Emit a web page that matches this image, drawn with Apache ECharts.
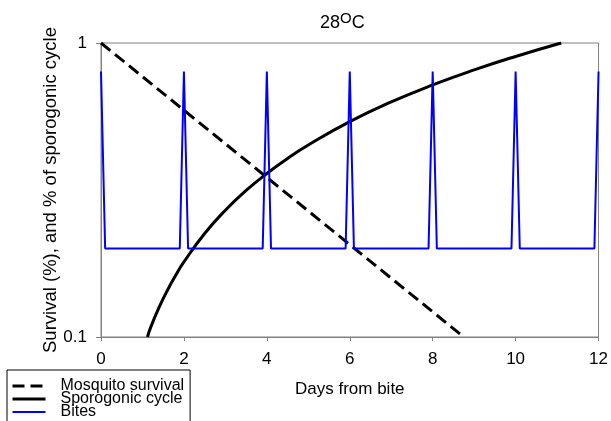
<!DOCTYPE html>
<html>
<head>
<meta charset="utf-8">
<script src="https://cdn.jsdelivr.net/npm/echarts@6/dist/echarts.min.js"></script>
<style>
  html, body { margin: 0; padding: 0; background: #fff; }
  #chart { width: 611px; height: 421px; }
</style>
</head>
<body>
<div id="chart"></div>
<script>
// data
let survivalDays = [0, 8.75];
let survivalVals = [1, 0.1];

let sporoDays = [1.12, 1.2, 1.4, 1.6, 1.8, 2, 2.5, 3, 3.5, 4, 4.5, 5, 6, 7, 8, 9, 10, 11.1];
let sporoVals = [0.1, 0.108, 0.126, 0.144, 0.162, 0.18, 0.225, 0.27, 0.315, 0.36, 0.405, 0.45, 0.54, 0.63, 0.72, 0.81, 0.9, 1.0];

let biteDays = [0, 0.1, 1.9, 2, 2.1, 3.9, 4, 4.1, 5.9, 6, 6.1, 7.9, 8, 8.1, 9.9, 10, 10.1, 11.9, 12];
let biteVals = [0.8, 0.2, 0.2, 0.8, 0.2, 0.2, 0.8, 0.2, 0.2, 0.8, 0.2, 0.2, 0.8, 0.2, 0.2, 0.8, 0.2, 0.2, 0.8];

let xTicks = [0, 2, 4, 6, 8, 10, 12];
let yTicks = [0.1, 1];

let zip = (a, b) => a.map((v, i) => [v, b[i]]);

let font = 'Liberation Sans, Arial, sans-serif';

let option = {
    animation: false,
    backgroundColor: '#fff',
    textStyle: { fontFamily: font },
    title: {
        text: '28{s|O}C',
        left: 315,
        top: 6,
        textStyle: {
            fontFamily: font,
            fontSize: 18,
            fontWeight: 'normal',
            color: '#000',
            rich: {
                s: { fontFamily: font, fontSize: 15, color: '#000', padding: [0, 0, 10, 0] }
            }
        }
    },
    legend: {
        orient: 'vertical',
        left: 7,
        top: 370,
        height: 120,
        itemGap: -3,
        itemWidth: 33,
        itemHeight: 12,
        padding: [8, 6, 20, 4],
        borderColor: '#000',
        borderWidth: 1,
        itemStyle: { opacity: 0 },
        lineStyle: { width: 'inherit' },
        textStyle: { fontFamily: font, fontSize: 16, color: '#000', lineHeight: 12.5, padding: [0, 0, 0, 10] },
        data: ['Mosquito survival', 'Sporogonic cycle', 'Bites']
    },
    grid: {
        left: 101,
        right: 10,
        top: 43,
        bottom: 84,
        show: true,
        borderColor: '#808080',
        borderWidth: 1
    },
    xAxis: {
        type: 'value',
        min: 0,
        max: 12,
        interval: 2,
        name: 'Days from bite',
        nameLocation: 'middle',
        nameGap: 44,
        nameTextStyle: { fontFamily: font, fontSize: 17, color: '#000' },
        axisLine: { lineStyle: { color: '#808080' } },
        axisTick: { length: 4, lineStyle: { color: '#808080' } },
        axisLabel: {
            fontFamily: font, fontSize: 17, color: '#000', margin: 14,
            formatter: v => xTicks.includes(v) ? String(v) : ''
        },
        splitLine: { show: false }
    },
    yAxis: {
        type: 'log',
        logBase: 10,
        min: 0.1,
        max: 1,
        name: 'Survival (%), and % of sporogonic cycle',
        nameLocation: 'middle',
        nameGap: 41,
        nameMoveOverlap: false,
        nameTextStyle: { fontFamily: font, fontSize: 18.5, color: '#000' },
        axisLine: { show: true, lineStyle: { color: '#808080' } },
        axisTick: { show: true, length: 5, lineStyle: { color: '#808080' } },
        axisLabel: {
            fontFamily: font, fontSize: 17, color: '#000', margin: 14,
            formatter: v => {
                let t = yTicks.find(k => Math.abs(k - v) < 1e-6);
                return t === undefined ? '' : String(t);
            }
        },
        splitLine: { show: false },
        minorTick: { show: false }
    },
    series: [
        {
            name: 'Mosquito survival',
            type: 'line',
            symbol: 'none',
            data: zip(survivalDays, survivalVals),
            lineStyle: { color: '#000', width: 3, type: [12, 6] },
            itemStyle: { color: '#000' }
        },
        {
            name: 'Sporogonic cycle',
            type: 'line',
            symbol: 'none',
            smooth: true,
            data: zip(sporoDays, sporoVals),
            lineStyle: { color: '#000', width: 3 },
            itemStyle: { color: '#000' }
        },
        {
            name: 'Bites',
            type: 'line',
            symbol: 'none',
            data: zip(biteDays, biteVals),
            lineStyle: { color: '#0000ff', width: 2 },
            itemStyle: { color: '#0000ff' }
        }
    ]
};

let mychart = echarts.init(document.getElementById('chart'));
mychart.setOption(option);
</script>
</body>
</html>
